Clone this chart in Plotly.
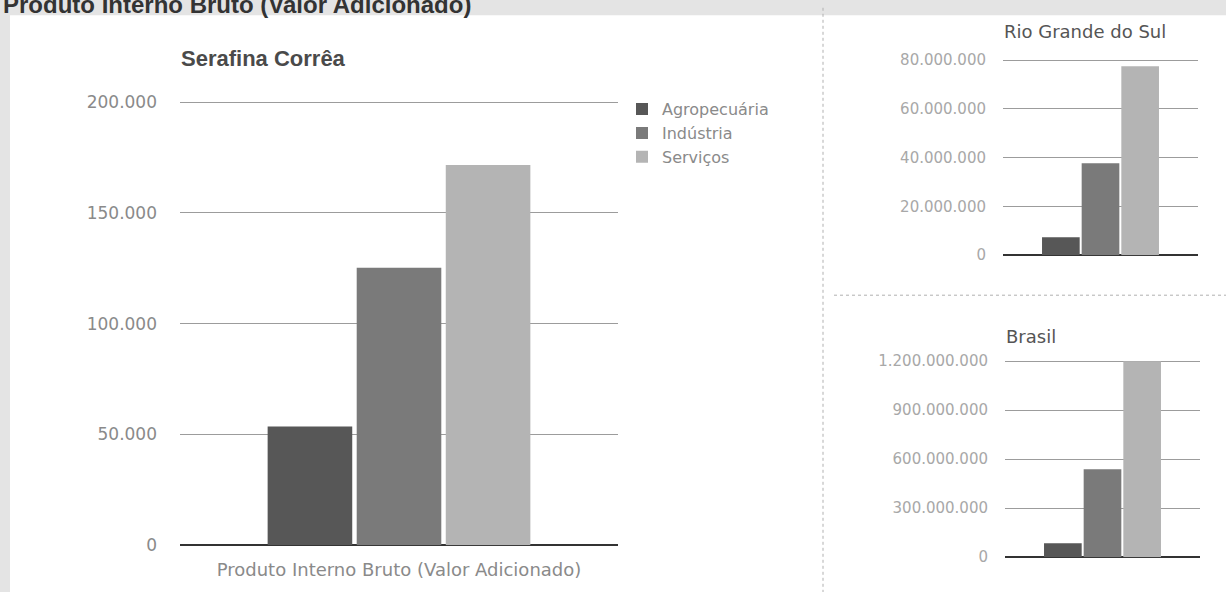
import plotly.graph_objects as go

W, H = 1226, 592

series = ["Agropecuária", "Indústria", "Serviços"]
colors = ["#575757", "#7a7a7a", "#b4b4b4"]
category = ["Produto Interno Bruto (Valor Adicionado)"]

serafina = [53600, 125300, 171700]
rio_grande = [7400000, 37700000, 77500000]
brasil = [86000000, 539000000, 1200000000]

main_ticks = [0, 50000, 100000, 150000, 200000]
rs_ticks = [0, 20000000, 40000000, 60000000, 80000000]
br_ticks = [0, 300000000, 600000000, 900000000, 1200000000]

# calibration of vertical placement in the rendered page
OFF, HEFF = 5.8, 576.0


def Y(y_px):
    return 1 - (y_px - OFF) / HEFF


def px_x(a, b):
    return [a / W, b / W]


def y_dom(top_px, zero_px, top_val, extra=0.012):
    span = zero_px - top_px
    top_ext = top_px - span * extra
    return [Y(zero_px), Y(top_ext)], [0, top_val * (1 + extra)]


fig = go.Figure()

for name, col, v in zip(series, colors, serafina):
    fig.add_trace(go.Bar(x=category, y=[v], name=name, marker_color=col,
                         marker_line_width=0, xaxis="x", yaxis="y"))
for name, col, v in zip(series, colors, rio_grande):
    fig.add_trace(go.Bar(x=["RS"], y=[v], name=name, marker_color=col,
                         marker_line_width=0, xaxis="x2", yaxis="y2",
                         showlegend=False))
for name, col, v in zip(series, colors, brasil):
    fig.add_trace(go.Bar(x=["BR"], y=[v], name=name, marker_color=col,
                         marker_line_width=0, xaxis="x3", yaxis="y3",
                         showlegend=False))

grid = "#9c9c9c"
tickc = "#8a8a8a"
FONT = "DejaVu Sans, Verdana, sans-serif"

common_y = dict(showgrid=True, gridcolor=grid, gridwidth=1.3, zeroline=True,
                zerolinecolor="#333333", zerolinewidth=2, showline=False,
                ticks="", tickformat=",.0f", fixedrange=True)

d1, r1 = y_dom(102, 545, 200000)
d2, r2 = y_dom(60, 255, 80000000)
d3, r3 = y_dom(361, 557, 1200000000)

fig.update_layout(
    width=W, height=H,
    margin=dict(l=0, r=0, t=0, b=0),
    paper_bgcolor="#ffffff",
    plot_bgcolor="rgba(0,0,0,0)",
    separators=",.",
    barmode="group",
    bargap=0.39,
    bargroupgap=0.05,
    font=dict(family=FONT, color=tickc),
    showlegend=True,
    legend=dict(x=622 / W, y=Y(92), xanchor="left", yanchor="top",
                bgcolor="rgba(0,0,0,0)", font=dict(size=16, color="#8a8a8a"),
                itemwidth=30, tracegroupgap=0, traceorder="normal"),
    xaxis=dict(domain=px_x(180, 618), showgrid=False, showline=False,
               tickfont=dict(size=18, color="#8a8a8a"), ticks="",
               ticklabelstandoff=12, fixedrange=True),
    yaxis=dict(domain=d1, range=r1, tickvals=main_ticks,
               tickfont=dict(size=17, color=tickc), ticklabelstandoff=22,
               **common_y),
    xaxis2=dict(domain=px_x(1003, 1198), anchor="y2", showticklabels=False,
                showgrid=False, fixedrange=True),
    yaxis2=dict(domain=d2, anchor="x2", range=r2,
                tickvals=rs_ticks, tickfont=dict(size=15, color="#a8a8a8"),
                ticklabelstandoff=16, **common_y),
    xaxis3=dict(domain=px_x(1005, 1200), anchor="y3", showticklabels=False,
                showgrid=False, fixedrange=True),
    yaxis3=dict(domain=d3, anchor="x3", range=r3,
                tickvals=br_ticks, tickfont=dict(size=15, color="#a8a8a8"),
                ticklabelstandoff=16, **common_y),
)

bg = "#e4e4e4"
fig.update_layout(shapes=[
    dict(type="rect", xref="paper", yref="paper", x0=0, x1=1, y0=Y(15),
         y1=1.05, fillcolor=bg, line_width=0, layer="below"),
    dict(type="rect", xref="paper", yref="paper", x0=0, x1=10 / W, y0=-0.05,
         y1=1.05, fillcolor=bg, line_width=0, layer="below"),
    dict(type="line", xref="paper", yref="paper", x0=823 / W, x1=823 / W,
         y0=-0.05, y1=Y(5), line=dict(color="#b0b0b0", width=1, dash="dot"),
         layer="below"),
    dict(type="line", xref="paper", yref="paper", x0=834 / W, x1=1,
         y0=Y(295), y1=Y(295),
         line=dict(color="#b0b0b0", width=1, dash="dot"), layer="below"),
])

fig.add_annotation(text="<b>Produto Interno Bruto (Valor Adicionado)</b>",
                   xref="paper", yref="paper", x=1 / W, y=Y(4),
                   xanchor="left", yanchor="middle", showarrow=False,
                   font=dict(size=24, color="#333333",
                             family="Liberation Sans, Arial, sans-serif"))
fig.add_annotation(text="<b>Serafina Corrêa</b>", xref="paper", yref="paper",
                   x=179 / W, y=Y(58), xanchor="left", yanchor="middle",
                   showarrow=False,
                   font=dict(size=22, color="#4a4a4a",
                             family="Liberation Sans, Arial, sans-serif"))
fig.add_annotation(text="Rio Grande do Sul", xref="paper", yref="paper",
                   x=1002 / W, y=Y(31), xanchor="left", yanchor="middle",
                   showarrow=False,
                   font=dict(size=18, color="#555555", family=FONT))
fig.add_annotation(text="Brasil", xref="paper", yref="paper",
                   x=1004 / W, y=Y(336), xanchor="left", yanchor="middle",
                   showarrow=False,
                   font=dict(size=18, color="#555555", family=FONT))

fig.write_html(
    "out.html",
    config={"displayModeBar": False},
    post_script="document.body.style.margin='0';"
                "document.body.style.overflow='hidden';"
                "document.body.style.background='#ffffff';",
)
